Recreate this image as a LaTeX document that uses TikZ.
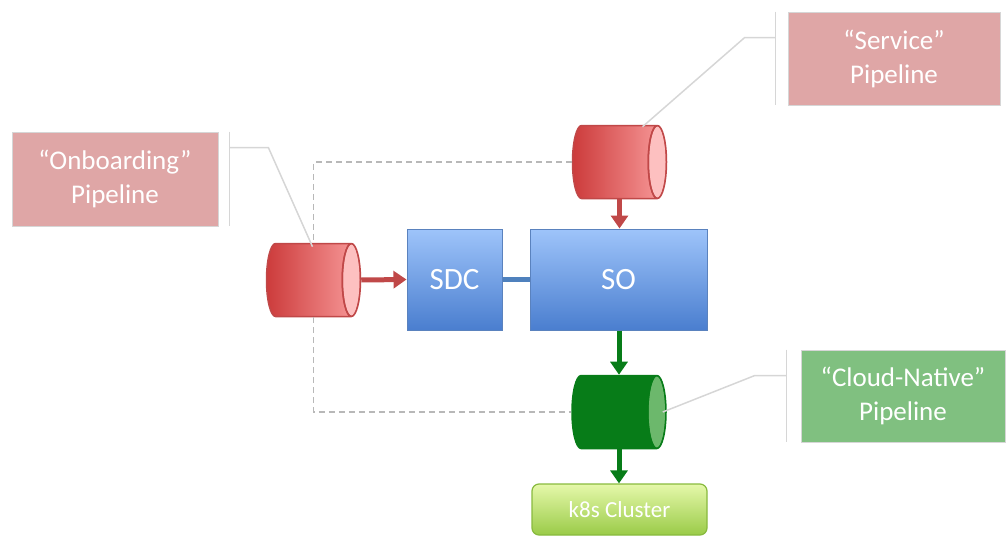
\documentclass[tikz,border=0pt]{standalone}
\usepackage{fontspec}
\setmainfont{Carlito}
\usetikzlibrary{arrows.meta,positioning,shapes.geometric,calc}
\definecolor{calred}{HTML}{DFA6A6}
\definecolor{calgreen}{HTML}{80C080}
\definecolor{calline}{HTML}{D6D6D6}
\definecolor{pipedark}{HTML}{CC3B3B}
\definecolor{pipelight}{HTML}{F99C9C}
\definecolor{pipeend}{HTML}{FDC0C0}
\definecolor{pipeedge}{HTML}{C04848}
\definecolor{cngreen}{HTML}{077C18}
\definecolor{cnend}{HTML}{6CB86C}
\definecolor{blutop}{HTML}{9EC4FA}
\definecolor{blubot}{HTML}{4A7ECF}
\definecolor{bluedge}{HTML}{5A82BE}
\definecolor{linkblue}{HTML}{4F81BD}
\definecolor{k8stop}{HTML}{E5F8AA}
\definecolor{k8sbot}{HTML}{9ACB48}
\definecolor{k8sedge}{HTML}{88BA3E}
\definecolor{dashgray}{HTML}{B8B8B8}
\newcommand{\pipestrut}{\rule{0pt}{73pt}}
\tikzset{
  callout/.style={draw=calline,line width=0.8pt,align=center,text=white,
                  font=\fontsize{27}{34}\selectfont,inner sep=0pt},
  pipe/.style={cylinder,shape border rotate=0,aspect=0.25,anchor=shape center,
               minimum width=73pt,minimum height=94pt,inner sep=0pt,line width=1.5pt},
  redpipe/.style={pipe,draw=pipeedge,left color=pipedark,right color=pipelight,
                  path picture={\filldraw[fill=pipeend,draw=pipeedge,line width=1.5pt]
                    ([xshift=-9.1pt]path picture bounding box.east) ellipse [x radius=9.1pt,y radius=36.5pt];}},
  greenpipe/.style={pipe,draw=cngreen,fill=cngreen,
                  path picture={\filldraw[fill=cnend,draw=cngreen,line width=1.5pt]
                    ([xshift=-9.1pt]path picture bounding box.east) ellipse [x radius=9.1pt,y radius=36.5pt];}},
  block/.style={draw=bluedge,line width=1pt,top color=blutop,bottom color=blubot,
                text=white,font=\fontsize{31}{36}\selectfont,inner sep=0pt,minimum height=101pt},
  cluster/.style={draw=k8sedge,line width=1.2pt,rounded corners=7pt,top color=k8stop,
                  bottom color=k8sbot,text=white,font=\fontsize{23}{28}\selectfont,
                  minimum width=175pt,minimum height=51pt,inner sep=0pt},
  redarr/.style={-{Triangle[length=13pt,width=17pt]},line width=5pt,draw=pipeedge},
  grnarr/.style={-{Triangle[length=13pt,width=17pt]},line width=5pt,draw=cngreen},
  link/.style={line width=5pt,draw=linkblue},
  lead/.style={draw=calline,line width=1.5pt},
  dashline/.style={draw=dashgray,line width=1.5pt,dash pattern=on 6pt off 4pt}
}
\begin{document}
\begin{tikzpicture}[x=1pt,y=-1pt]
  \useasboundingbox (0,0) rectangle (1007,538);
  % callouts
  \node[callout,fill=calred,minimum width=206pt,minimum height=94pt] (obcall) at (115,179) {“Onboarding”\\Pipeline};
  \node[callout,fill=calred,minimum width=212pt,minimum height=93pt] (svcall) at (894,58.5) {“Service”\\Pipeline};
  \node[callout,fill=calgreen,minimum width=204pt,minimum height=92pt] (cncall) at (903,396) {“Cloud-Native”\\Pipeline};
  % pipes and blocks
  \node[redpipe] (obpipe) at (313.5,280) {\pipestrut};
  \node[redpipe] (svpipe) at (619.5,162) {\pipestrut};
  \node[greenpipe] (cnpipe) at (619,412) {\pipestrut};
  \node[block,minimum width=95pt] (sdc) at (454.5,279.5) {SDC};
  \node[block,minimum width=177pt] (so) at (618.5,279.5) {SO};
  \node[cluster] (k8s) at (619.5,509.5) {k8s Cluster};
  % dashed return path
  \draw[dashline] (svpipe.west) -| (obpipe.shape center |- obpipe.north);
  \draw[dashline] (obpipe.shape center |- obpipe.south) |- (cnpipe.west);
  % flow
  \draw[link] (sdc.east) -- (so.west);
  \draw[redarr] (obpipe.east) -- (sdc.west);
  \draw[redarr] (svpipe.shape center |- svpipe.south) -- (svpipe.shape center |- so.north);
  \draw[grnarr] (cnpipe.shape center |- so.south) -- (cnpipe.shape center |- cnpipe.north);
  \draw[grnarr] (cnpipe.shape center |- cnpipe.south) -- (cnpipe.shape center |- k8s.north);
  % callout brackets and leaders
  \draw[lead] ($(obcall.north east)+(11,0)$) -- ($(obcall.south east)+(11,0)$);
  \draw[lead] ($(obcall.north east)+(11,16)$) -- ++(39,0) -- ($(obpipe.shape center |- obpipe.north)+(-1,4)$);
  \draw[lead] ($(svcall.north west)+(-12,0)$) -- ($(svcall.south west)+(-12,0)$);
  \draw[lead] ($(svcall.north west)+(-12,26)$) -- ++(-31,0) -- ($(svpipe.shape center |- svpipe.north)+(23,2)$);
  \draw[lead] ($(cncall.north west)+(-14,0)$) -- ($(cncall.south west)+(-14,0)$);
  \draw[lead] ($(cncall.north west)+(-14,26)$) -- ++(-32,0) -- ($(cnpipe.east)+(-4,0)$);
\end{tikzpicture}
\end{document}
